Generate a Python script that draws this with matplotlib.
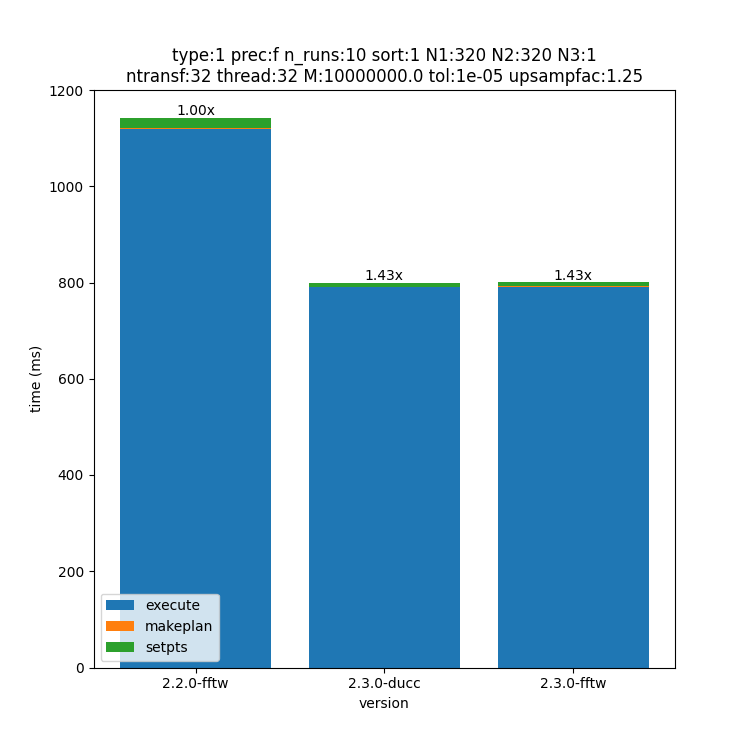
import matplotlib
matplotlib.use("Agg")
import matplotlib.pyplot as plt
import numpy as np

versions = ["2.2.0-fftw", "2.3.0-ducc", "2.3.0-fftw"]
execute = [1119, 790, 790]
makeplan = [2, 0.5, 2]
setpts = [20, 8, 8]

fig, ax = plt.subplots(figsize=(7.5, 7.5), dpi=100)
ex = np.array(execute); mp = np.array(makeplan); sp = np.array(setpts)
ax.bar(versions, ex, label="execute")
ax.bar(versions, mp, bottom=ex, label="makeplan")
ax.bar(versions, sp, bottom=ex + mp, label="setpts")
tot = ex + mp + sp
for i, t in enumerate(tot):
    ax.text(i, t, f"{tot[0]/t:.2f}x", ha="center", va="bottom")
ax.set_xlabel("version")
ax.set_ylabel("time (ms)")
ax.set_ylim(0, 1200)
ax.set_title("type:1 prec:f n_runs:10 sort:1 N1:320 N2:320 N3:1\n"
             "ntransf:32 thread:32 M:10000000.0 tol:1e-05 upsampfac:1.25")
ax.legend(loc="lower left")
fig.savefig("out.png")
